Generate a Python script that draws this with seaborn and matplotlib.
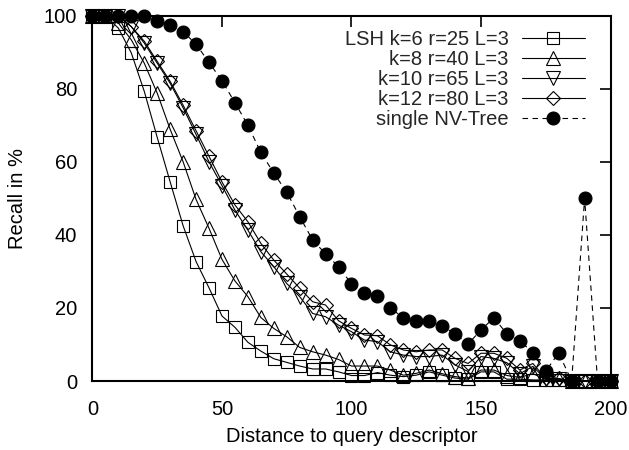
import matplotlib
matplotlib.use("Agg")
import matplotlib.pyplot as plt
import seaborn as sns
import numpy as np

dist = list(range(0, 201, 5))

lsh_k6 = [100, 100, 96.6, 89.8, 79.3, 66.7, 54.5, 42.5, 32.7, 25.5,
          17.8, 14.7, 10.6, 8.2, 6.1, 5.1, 4.1, 3.3, 3.3, 2.5,
          1.5, 1.5, 2.3, 1.6, 1.2, 1.6, 2.5, 1.6, 0.8, 0.5,
          2.5, 2.5, 0.5, 0.5, 0.3, 0.3, 0.2, 0, 0, 0, 0]
lsh_k8 = [100, 100, 98, 93.4, 87, 78.8, 68.9, 60, 49.7, 41.8,
          33.3, 27.4, 23.1, 17.4, 14.4, 12.1, 9.2, 8.0, 7.1, 5.9,
          4.1, 4.1, 4.1, 3.0, 1.6, 2.1, 3.0, 2.0, 1.2, 0.8,
          3.0, 3.0, 1.5, 1.0, 2.0, 0.5, 0.5, 0, 0, 0, 0]
lsh_k10 = [100, 100, 100, 97, 92.5, 87, 81.5, 74.8, 67.5, 60,
           53.5, 46.8, 41.3, 35.4, 31.3, 26.7, 23.1, 18.5, 17.6, 15.3,
           13.5, 11.2, 10.8, 8.0, 7.1, 6.7, 6.7, 7.1, 4.4, 2.6,
           6.7, 6.2, 5.0, 2.0, 4.0, 0.5, 0.5, 0, 0, 0, 0]
lsh_k12 = [100, 100, 100, 97, 93, 87.5, 82, 75.5, 68.5, 61.5,
           54.5, 48.2, 43.6, 37.7, 33.1, 29.3, 25.4, 21.7, 20.8, 16.5,
           14.4, 12.6, 12.4, 9.9, 8.5, 8.0, 8.5, 8.5, 6.2, 4.8,
           7.6, 7.6, 6.2, 3.0, 4.8, 0.7, 0.7, 0, 0, 0, 0]
nv_tree = [100, 100, 100, 100, 100, 98.6, 97.5, 95.6, 92.2, 87.2,
           82.2, 76.2, 70, 62.6, 56.9, 51.7, 45, 38.6, 34.8, 31.3,
           26.6, 24, 23.3, 20, 17.3, 16.3, 16.3, 15.1, 12.9, 10.1,
           14, 17.3, 12.9, 11, 7.8, 2.7, 7.7, 0, 50, 0, 0]

labels = ["LSH k=6 r=25 L=3", "k=8 r=40 L=3", "k=10 r=65 L=3",
          "k=12 r=80 L=3", "single NV-Tree"]
xticks = [0, 50, 100, 150, 200]
yticks = [0, 20, 40, 60, 80, 100]

sns.set_theme(style="white")
plt.rcParams['font.family'] = ['Liberation Sans', 'DejaVu Sans']
FS = 14.5

fig = plt.figure(figsize=(6.29, 4.5), dpi=100)
ax = fig.add_axes([0.147, 0.1533, 0.8236, 0.8118])

styles = [
    dict(marker="s", markersize=8.5, markerfacecolor="none", linestyle="-"),
    dict(marker="^", markersize=9.5, markerfacecolor="none", linestyle="-"),
    dict(marker="v", markersize=9.5, markerfacecolor="none", linestyle="-"),
    dict(marker="D", markersize=7, markerfacecolor="none", linestyle="-"),
    dict(marker="o", markersize=9.3, markerfacecolor="black", linestyle=(0, (5, 4))),
]
series = [lsh_k6, lsh_k8, lsh_k10, lsh_k12, nv_tree]

for vals, lab, st in zip(series, labels, styles):
    sns.lineplot(x=dist, y=vals, ax=ax, color="black", linewidth=0.8,
                 markeredgecolor="black", markeredgewidth=0.8,
                 clip_on=False, label=lab, **st)

ax.set_xlim(0, 200)
ax.set_ylim(0, 100)
ax.set_xticks(xticks)
ax.set_yticks(yticks)
ax.tick_params(axis="both", which="major", direction="in", length=8, width=1.2,
               top=True, right=True, labelsize=FS, colors="black")
ax.tick_params(axis="x", pad=13.5)
ax.tick_params(axis="y", pad=11)
for s in ax.spines.values():
    s.set_linewidth(1.5)
    s.set_color("black")
ax.set_xlabel("Distance to query descriptor", fontsize=FS, color="black", va="center")
ax.set_ylabel("Recall in %", fontsize=FS, color="black", va="center")
ax.xaxis.set_label_coords(0.5, -0.153)
ax.yaxis.set_label_coords(-0.1438, 0.5)

leg = ax.legend(loc="upper right", bbox_to_anchor=(0.951, 0.961), frameon=False,
                markerfirst=False, fontsize=FS, handlelength=3.15, handletextpad=0.65,
                labelspacing=0.05, borderpad=0, borderaxespad=0)

fig.savefig("out.png", dpi=100)
